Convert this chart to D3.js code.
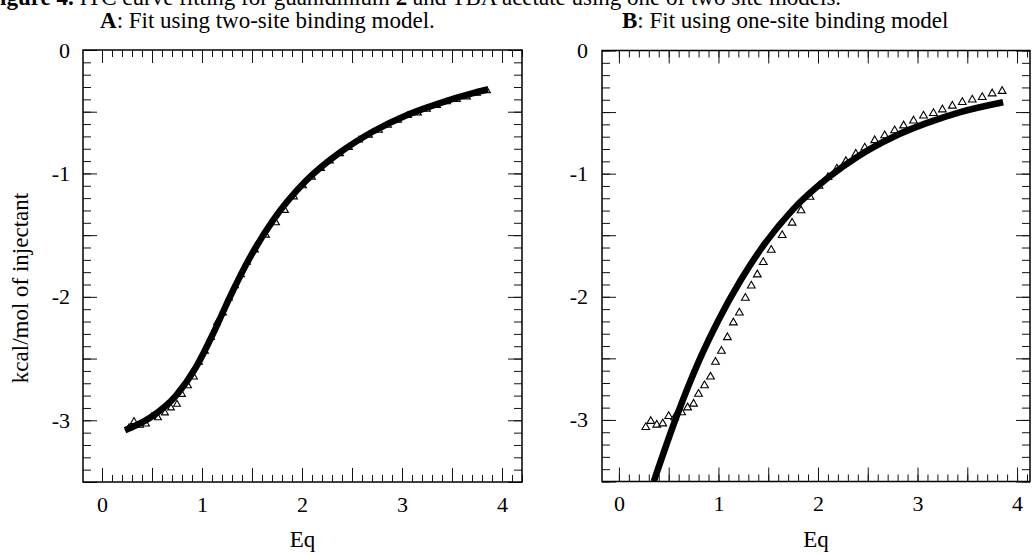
<!DOCTYPE html>
<html>
<head>
<meta charset="utf-8">
<script src="https://cdn.jsdelivr.net/npm/d3@7"></script>
<style>
  body { margin: 0; background: #fff; }
  svg { display: block; font-family: "Liberation Serif", "Times New Roman", serif; }
</style>
</head>
<body>
<div id="chart"></div>
<script>
// ITC data (triangles) - same measurements in both panels
const eqValues = [0.27, 0.32, 0.38, 0.44, 0.50, 0.56, 0.63, 0.69, 0.75, 0.80, 0.86, 0.92, 0.97, 1.03,
  1.09, 1.15, 1.21, 1.27, 1.33, 1.39, 1.45, 1.53, 1.64, 1.74, 1.83, 1.92, 2.01, 2.10, 2.19, 2.28,
  2.38, 2.47, 2.57, 2.67, 2.77, 2.86, 2.96, 3.06, 3.16, 3.25, 3.35, 3.45, 3.55, 3.65, 3.75, 3.85];
const heatValues = [-3.06, -3.01, -3.04, -3.03, -2.97, -2.98, -2.94, -2.90, -2.87, -2.79, -2.72, -2.65, -2.53, -2.44,
  -2.33, -2.21, -2.13, -2.01, -1.91, -1.82, -1.72, -1.62, -1.50, -1.40, -1.30, -1.19, -1.10, -1.03, -0.96, -0.90,
  -0.84, -0.79, -0.73, -0.69, -0.65, -0.61, -0.57, -0.53, -0.51, -0.48, -0.45, -0.42, -0.40, -0.38, -0.35, -0.33];

// fitted curves
const fitTwoEq = [0.23, 0.48, 0.74, 0.94, 1.11, 1.28, 1.44, 1.71, 2.04, 2.38, 2.71, 3.04, 3.38, 3.71, 3.86];
const fitTwoHeat = [-3.08, -2.98, -2.80, -2.57, -2.30, -2.00, -1.74, -1.38, -1.06, -0.83, -0.66, -0.53, -0.43, -0.35, -0.32];
const fitOneEq = [0.35, 0.58, 0.81, 1.00, 1.22, 1.42, 1.75, 2.09, 2.42, 2.76, 3.09, 3.43, 3.86];
const fitOneHeat = [-3.50, -2.97, -2.51, -2.19, -1.87, -1.62, -1.29, -1.04, -0.85, -0.70, -0.59, -0.50, -0.42];

const xTickLabels = [0, 1, 2, 3, 4];
const yTickLabels = [0, -1, -2, -3];

const svg = d3.select("#chart").append("svg")
  .attr("width", 1032)
  .attr("height", 554);

// caption, cut off at the top of the scan
const cap = svg.append("text").attr("x", -14).attr("y", 5).style("font-size", "23px");
cap.append("tspan").style("font-weight", "bold").text("Figure 4.");
cap.append("tspan").text(" ITC curve fitting for guanidinium ");
cap.append("tspan").style("font-weight", "bold").text("2");
cap.append("tspan").text(" and TBA acetate using one of two site models.");

const points = eqValues.map((e, i) => ({ x: e, y: heatValues[i] }));

function drawPanel(p) {
  const g = svg.append("g").attr("transform", `translate(${p.left},${p.top})`);
  const x = d3.scaleLinear().domain(p.xDomain).range([0, p.width]);
  const y = d3.scaleLinear().domain([-3.5, 0]).range([p.height, 0]);

  const xMinor = d3.range(0, 4.21, 0.1).filter(v => v >= p.xDomain[0] && v <= p.xDomain[1]);
  const xMajor = d3.range(0, 4.21, 0.5).filter(v => v <= p.xDomain[1]);
  const yMinor = d3.range(-3.5, 0.001, 0.1);
  const yMajor = d3.range(-3.5, 0.001, 0.5);

  // inward ticks on all four sides
  const addTicks = (axis, vals, size, transform) => {
    g.append("g").attr("transform", transform)
      .call(axis.tickValues(vals).tickSize(-size).tickFormat(""))
      .call(a => a.select(".domain").remove())
      .selectAll("line").attr("stroke", "#111").attr("stroke-width", 1);
  };
  addTicks(d3.axisBottom(x), xMinor, 7, `translate(0,${p.height})`);
  addTicks(d3.axisBottom(x), xMajor, 14, `translate(0,${p.height})`);
  addTicks(d3.axisTop(x), xMinor, 7, "translate(0,0)");
  addTicks(d3.axisTop(x), xMajor, 13, "translate(0,0)");
  addTicks(d3.axisLeft(y), yMinor, 8, "translate(0,0)");
  addTicks(d3.axisLeft(y), yMajor, 14, "translate(0,0)");
  addTicks(d3.axisRight(y), yMinor, 8, `translate(${p.width},0)`);
  addTicks(d3.axisRight(y), yMajor, 14, `translate(${p.width},0)`);

  // tick labels
  g.append("g").attr("transform", `translate(0,${p.height})`)
    .call(d3.axisBottom(x).tickValues(xTickLabels).tickSize(0).tickPadding(14).tickFormat(d3.format("d")))
    .call(a => a.select(".domain").remove())
    .selectAll("text").style("font-size", "22px").style("font-family", "Liberation Serif").attr("fill", "#000");
  g.append("g")
    .call(d3.axisLeft(y).tickValues(yTickLabels).tickSize(0).tickPadding(p.yPad).tickFormat(d => d === 0 ? "0" : "-" + Math.abs(d)))
    .call(a => a.select(".domain").remove())
    .selectAll("text").style("font-size", "22px").style("font-family", "Liberation Serif").attr("fill", "#000");

  // frame
  g.append("rect").attr("width", p.width).attr("height", p.height)
    .attr("fill", "none").attr("stroke", "#000").attr("stroke-width", 1.5);

  g.append("clipPath").attr("id", "clip" + p.id)
    .append("rect").attr("width", p.width).attr("height", p.height);

  const plot = g.append("g").attr("clip-path", `url(#clip${p.id})`);

  plot.selectAll(".tri").data(points).enter()
    .append("path").attr("class", "tri")
    .attr("transform", d => `translate(${x(d.x)},${y(d.y)})`)
    .attr("d", d3.symbol().type(d3.symbolTriangle).size(p.triSize))
    .attr("fill", "#fff").attr("stroke", "#000").attr("stroke-width", 1.1);

  const fit = p.fitEq.map((e, i) => ({ x: e, y: p.fitHeat[i] }));
  plot.append("path").datum(fit)
    .attr("fill", "none").attr("stroke", "#000").attr("stroke-width", 6.5)
    .attr("d", d3.line().x(d => x(d.x)).y(d => y(d.y)).curve(d3.curveMonotoneX));

  // axis title
  g.append("text").attr("x", p.width / 2).attr("y", p.height + 65)
    .attr("text-anchor", "middle").style("font-size", "23px").text("Eq");

  // panel title
  const t = svg.append("text").attr("x", p.titleX).attr("y", 28).style("font-size", "23px");
  t.append("tspan").style("font-weight", "bold").text(p.letter);
  t.append("tspan").text(p.title);
}

drawPanel({ id: "A", left: 83, top: 50, width: 439, height: 432, xDomain: [-0.19, 4.2],
  fitEq: fitTwoEq, fitHeat: fitTwoHeat, triSize: 20, yPad: 13,
  letter: "A", title: ": Fit using two-site binding model.", titleX: 100 });
drawPanel({ id: "B", left: 602, top: 50.5, width: 428, height: 431, xDomain: [-0.17, 4.13],
  fitEq: fitOneEq, fitHeat: fitOneHeat, triSize: 26, yPad: 14,
  letter: "B", title: ": Fit using one-site binding model", titleX: 622 });

// y axis title
svg.append("text")
  .attr("transform", "translate(28,288) rotate(-90)")
  .attr("text-anchor", "middle").style("font-size", "23px")
  .text("kcal/mol of injectant");
</script>
</body>
</html>
